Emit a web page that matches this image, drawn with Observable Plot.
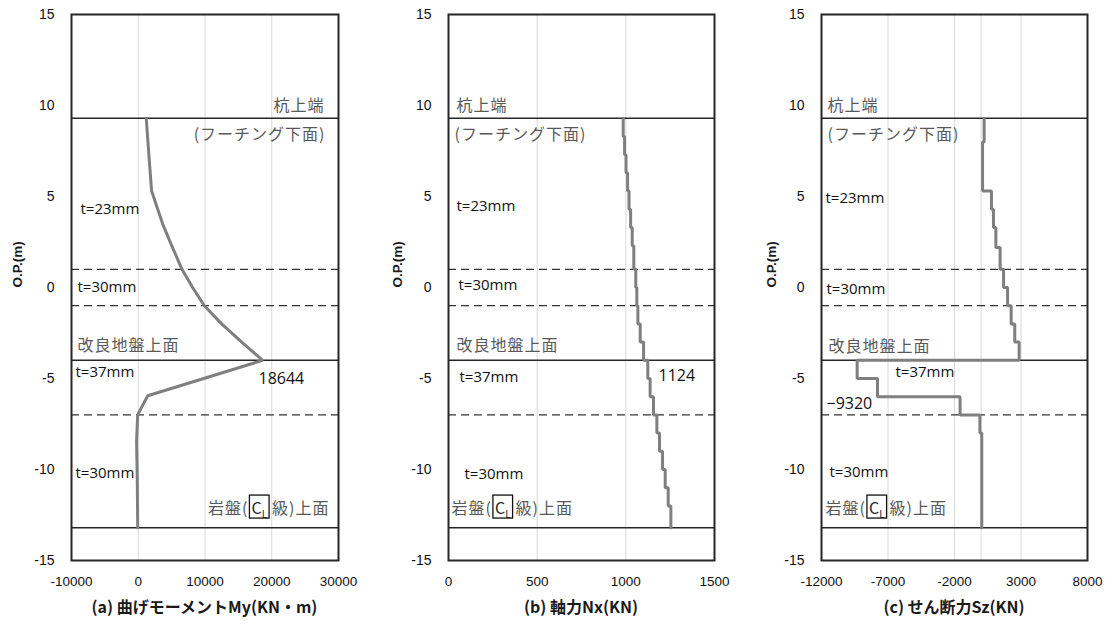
<!DOCTYPE html>
<html><head><meta charset="utf-8">
<script src="https://cdn.jsdelivr.net/npm/d3@7"></script>
<script src="https://cdn.jsdelivr.net/npm/@observablehq/plot@0.6"></script>
<style>
body{margin:0;background:#fff;}
#wrap{position:relative;width:1115px;height:630px;overflow:hidden;background:#fff;}
.panel{position:absolute;top:0;}
.panel svg{overflow:visible;background:transparent;}
.title{position:absolute;top:596px;height:20px;line-height:20px;width:320px;text-align:center;font-family:"Noto Sans CJK JP",sans-serif;font-weight:bold;font-size:16px;color:#1a1a1a;white-space:nowrap;}
</style></head>
<body><div id="wrap"></div>
<script>
// ---- data ----
const depthTicks = [-15, -10, -5, 0, 5, 10, 15];
const ticksA = [-10000, 0, 10000, 20000, 30000];
const ticksB = [0, 500, 1000, 1500];
const ticksC = [-12000, -7000, -2000, 3000, 8000];
const zeroLineC = [0];
const solidLevels = [9.3, -4.0, -13.2];
const dashedLevels = [1.0, -1.0, -7.0];

// (a) bending moment My (kN·m) vs elevation O.P. (m)
const depthA  = [9.3, 7.5, 5.3, 3.5, 2.4, 1.0, 0.0, -1.0, -2.0, -3.0, -4.0, -5.95, -7.0, -8.5, -10.5, -13.2];
const momentA = [1200, 1550, 2000, 3650, 4900, 6550, 8150, 9900, 12500, 15500, 18644, 1420, -90, -250, -150, -80];

// (b) axial force Nx (kN), stepwise
const depthB = [9.3, 8.3, 7.3, 6.3, 5.3, 4.3, 3.3, 2.3, 1.0, 0.0, -1.0, -2.0, -3.0, -4.0, -5.0, -6.0, -7.0, -8.0, -9.0, -10.0, -11.0, -12.0, -13.2];
const axialB = [985, 993, 1001, 1010, 1018, 1027, 1036, 1045, 1056, 1062, 1068, 1081, 1100, 1124, 1137, 1156, 1175, 1190, 1207, 1222, 1239, 1254, 1254];

// (c) shear force Sz (kN), stepwise
const depthC = [9.3, 8.0, 5.3, 4.3, 3.3, 2.2, 1.0, 0.0, -1.0, -2.0, -3.0, -4.0, -5.0, -6.0, -7.0, -8.0, -13.2];
const shearC = [230, 110, 780, 930, 1110, 1430, 1690, 1990, 2260, 2530, 2860, -9320, -7790, -1580, -90, 50, 50];

const titles = ["(a) 曲げモーメントMy(KN・m)", "(b) 軸力Nx(KN)", "(c) せん断力Sz(KN)"];
const axisLabel = "O.P.(m)";

// ---- layout ----
const FONT_TICK = "Liberation Sans, Arial, sans-serif";
const FONT_JP = "Noto Sans CJK JP, sans-serif";
const FONT_EN = "Open Sans, Liberation Sans, sans-serif";
const styles = {
  jp: {fontFamily: FONT_JP, fontSize: 16, fill: "#595959"},
  en: {fontFamily: FONT_EN, fontSize: 15, fill: "#111"},
  num: {fontFamily: FONT_EN, fontSize: 16, fill: "#111"}
};

const panels = [
  {left: 0, marginLeft: 71, plotW: 267, domain: [-10000, 30000], ticks: ticksA, grid: ticksA,
   depth: depthA, values: momentA, curve: "linear", axisDx: -54,
   labels: [
     {t: "杭上端", y: 10.0, side: "right", dx: -14, k: "jp"},
     {t: "(フーチング下面)", y: 8.4, side: "right", dx: -13, k: "jp"},
     {t: "t=23mm", y: 4.29, side: "left", dx: 9, k: "en"},
     {t: "t=30mm", y: 0.0, side: "left", dx: 6, k: "en"},
     {t: "改良地盤上面", y: -3.19, side: "left", dx: 6, k: "jp"},
     {t: "t=37mm", y: -4.67, side: "left", dx: 4, k: "en"},
     {t: "18644", y: -5.0, side: "left", dx: 187, k: "num"},
     {t: "t=30mm", y: -10.2, side: "left", dx: 4, k: "en"},
     {t: "岩盤(CL級)上面", y: -12.14, side: "right", dx: -9, k: "jp"}
   ]},
  {left: 378, marginLeft: 70, plotW: 266, domain: [0, 1500], ticks: ticksB, grid: ticksB,
   depth: depthB, values: axialB, curve: "step-before", axisDx: -51,
   labels: [
     {t: "杭上端", y: 10.0, side: "left", dx: 8, k: "jp"},
     {t: "(フーチング下面)", y: 8.4, side: "left", dx: 6, k: "jp"},
     {t: "t=23mm", y: 4.45, side: "left", dx: 8, k: "en"},
     {t: "t=30mm", y: 0.11, side: "left", dx: 10, k: "en"},
     {t: "改良地盤上面", y: -3.19, side: "left", dx: 8, k: "jp"},
     {t: "t=37mm", y: -4.95, side: "left", dx: 11, k: "en"},
     {t: "1124", y: -4.84, side: "left", dx: 210, k: "num"},
     {t: "t=30mm", y: -10.27, side: "left", dx: 16, k: "en"},
     {t: "岩盤(CL級)上面", y: -12.14, side: "left", dx: 3, k: "jp"}
   ]},
  {left: 750, marginLeft: 71, plotW: 266, domain: [-12000, 8000], ticks: ticksC, grid: ticksC.concat(zeroLineC),
   depth: depthC, values: shearC, curve: "step-before", axisDx: -50,
   labels: [
     {t: "杭上端", y: 10.0, side: "left", dx: 6, k: "jp"},
     {t: "(フーチング下面)", y: 8.4, side: "left", dx: 6, k: "jp"},
     {t: "t=23mm", y: 4.89, side: "left", dx: 4, k: "en"},
     {t: "t=30mm", y: -0.11, side: "left", dx: 5, k: "en"},
     {t: "改良地盤上面", y: -3.24, side: "left", dx: 7, k: "jp"},
     {t: "t=37mm", y: -4.67, side: "left", dx: 74, k: "en"},
     {t: "\u22129320", y: -6.37, side: "left", dx: 5, k: "num"},
     {t: "t=30mm", y: -10.16, side: "left", dx: 8, k: "en"},
     {t: "岩盤(CL級)上面", y: -12.14, side: "left", dx: 4, k: "jp"}
   ]}
];

const wrap = document.getElementById("wrap");
const marginTop = 14, marginBottom = 40, marginRight = 24, H = 600;

panels.forEach((cfg, idx) => {
  const rows = cfg.depth.map((d, i) => ({d, v: cfg.values[i]}));
  const labelMarks = cfg.labels.map(l => Plot.text([l.t], {
    frameAnchor: l.side, y: () => l.y, text: d => d, dx: l.dx,
    textAnchor: l.side === "right" ? "end" : "start",
    ...styles[l.k]
  }));
  const chart = Plot.plot({
    width: cfg.marginLeft + cfg.plotW + marginRight,
    height: H,
    marginLeft: cfg.marginLeft, marginRight, marginTop, marginBottom,
    style: {fontSize: "14px", fontFamily: FONT_TICK, background: "transparent", overflow: "visible"},
    x: {domain: cfg.domain},
    y: {domain: [-15, 15]},
    marks: [
      Plot.ruleX(cfg.grid, {stroke: "#d9d9d9", strokeWidth: 1}),
      Plot.ruleY(solidLevels, {stroke: "#262626", strokeWidth: 1.5}),
      Plot.ruleY(dashedLevels, {stroke: "#333", strokeWidth: 1.2, strokeDasharray: "8,5"}),
      Plot.line(rows, {x: "v", y: "d", curve: cfg.curve, stroke: "#7f7f7f", strokeWidth: 3, strokeLinejoin: "miter"}),
      Plot.frame({stroke: "#262626", strokeWidth: 2}),
      Plot.axisX(cfg.ticks, {tickSize: 0, tickPadding: 16, tickFormat: d => String(d), label: null, fontSize: 13.5, fill: "#111"}),
      Plot.axisY(depthTicks, {tickSize: 0, tickPadding: 17, tickFormat: d => String(d), label: null, fontSize: 14, fill: "#111"}),
      Plot.text([axisLabel], {frameAnchor: "left", dx: cfg.axisDx, rotate: -90, text: d => d, fontWeight: "bold", fontSize: 13.5, fill: "#1a1a1a", fontFamily: FONT_TICK}),
      ...labelMarks
    ]
  });
  const div = document.createElement("div");
  div.className = "panel";
  div.style.left = cfg.left + "px";
  div.appendChild(chart);
  wrap.appendChild(div);

  const t = document.createElement("div");
  t.className = "title";
  t.textContent = titles[idx];
  const cx = cfg.left + cfg.marginLeft + cfg.plotW / 2;
  t.style.left = (cx - 160) + "px";
  wrap.appendChild(t);
});

// ---- post-processing: letter spacing for Japanese labels, boxed C_L ----
const ns = "http://www.w3.org/2000/svg";
wrap.querySelectorAll("svg text").forEach(t => {
  if (/[\u3040-\u30ff\u4e00-\u9fff]/.test(t.textContent)) t.style.letterSpacing = "1px";
});
wrap.querySelectorAll("svg text").forEach(t => {
  if (t.textContent !== "岩盤(CL級)上面") return;
  while (t.firstChild) t.removeChild(t.firstChild);
  const add = (s, attrs) => {
    const e = document.createElementNS(ns, "tspan");
    e.textContent = s;
    for (const k in attrs) e.setAttribute(k, attrs[k]);
    t.appendChild(e);
    return e;
  };
  add("岩盤(", {});
  add("C", {dx: 3, fill: "#222", style: "letter-spacing:0px"});
  add("L", {dy: 4, "font-size": "10px", fill: "#222", style: "letter-spacing:0px"});
  add("級)上面", {dx: 5, dy: -4});
  const e3 = t.getExtentOfChar(3), e4 = t.getExtentOfChar(4), e0 = t.getExtentOfChar(0);
  const x0 = e3.x - 2, x1 = e4.x + e4.width + 2;
  const rect = document.createElementNS(ns, "rect");
  rect.setAttribute("x", x0);
  rect.setAttribute("width", x1 - x0);
  rect.setAttribute("y", e0.y + 0.5);
  rect.setAttribute("height", e0.height - 1);
  rect.setAttribute("fill", "none");
  rect.setAttribute("stroke", "#111");
  rect.setAttribute("stroke-width", 1.3);
  if (t.getAttribute("transform")) rect.setAttribute("transform", t.getAttribute("transform"));
  t.parentNode.appendChild(rect);
});
</script>
</body></html>
